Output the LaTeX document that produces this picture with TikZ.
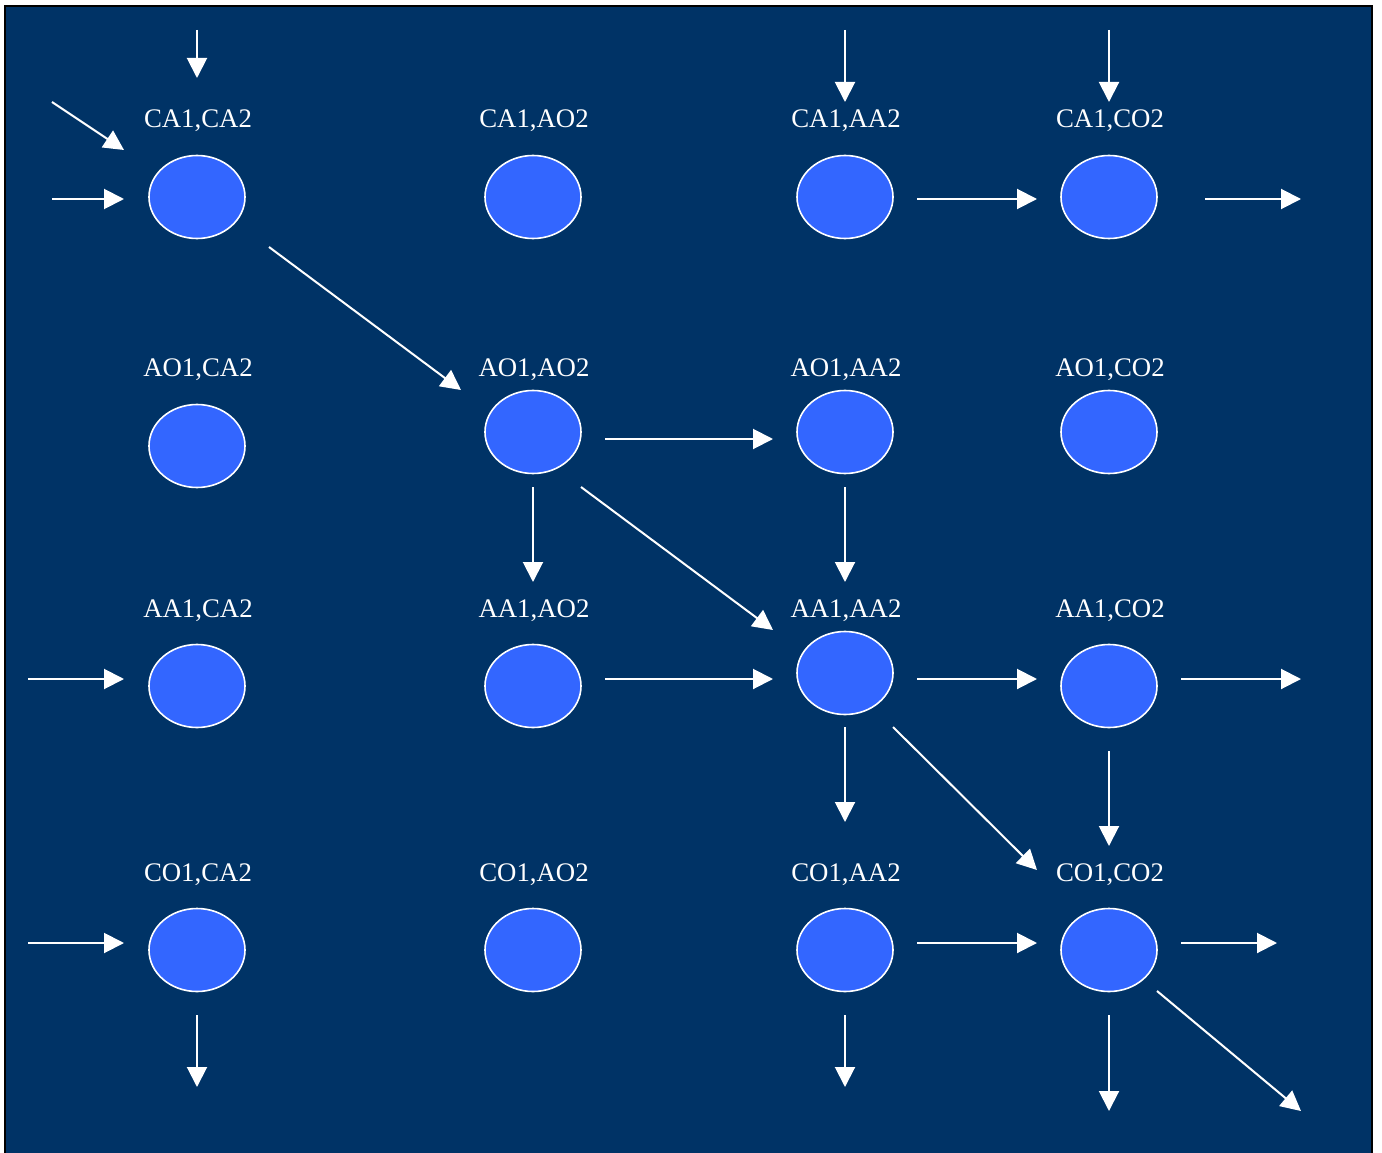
\documentclass[tikz,border=0pt]{standalone}
\usepackage{fontspec}
\setmainfont{Liberation Serif}
\usetikzlibrary{calc,arrows.meta,shapes.geometric}
\definecolor{navy}{HTML}{003366}
\definecolor{statefill}{HTML}{3366FF}
\tikzset{
  state/.style={ellipse, draw=white, line width=1.6pt, fill=statefill,
    minimum width=96pt, minimum height=83pt, inner sep=0pt},
  tag/.style={text=white, anchor=base, inner sep=0pt,
    font=\fontsize{26.8}{30}\selectfont},
  arr/.style={draw=white, line width=2pt,
    -{Triangle[length=20pt,width=20pt]}},
}
\begin{document}
\begin{tikzpicture}[x=1pt,y=-1pt]
\useasboundingbox (0,0) rectangle (1382,1153);
\fill[white] (0,0) rectangle (1382,1153);
\fill[navy] (5,6) rectangle (1372,1153);
\draw[black,line width=2pt] (5,1153) -- (5,6) -- (1372,6) -- (1372,1153);

% states
\node[state] (caca) at (197,197) {};
\node[state] (caao) at (533,197) {};
\node[state] (caaa) at (845,197) {};
\node[state] (caco) at (1109,197) {};
\node[state] (aoca) at (197,446) {};
\node[state] (aoao) at (533,432) {};
\node[state] (aoaa) at (845,432) {};
\node[state] (aoco) at (1109,432) {};
\node[state] (aaca) at (197,686) {};
\node[state] (aaao) at (533,686) {};
\node[state] (aaaa) at (845,673) {};
\node[state] (aaco) at (1109,686) {};
\node[state] (coca) at (197,950) {};
\node[state] (coao) at (533,950) {};
\node[state] (coaa) at (845,950) {};
\node[state] (coco) at (1109,950) {};

% labels
\node[tag] (lcaca) at (198,128) {CA1,CA2};
\node[tag] (lcaao) at (534,128) {CA1,AO2};
\node[tag] (lcaaa) at (846,128) {CA1,AA2};
\node[tag] (lcaco) at (1110,128) {CA1,CO2};
\node[tag] (laoca) at (198,376) {AO1,CA2};
\node[tag] (laoao) at (534,376) {AO1,AO2};
\node[tag] (laoaa) at (846,376) {AO1,AA2};
\node[tag] (laoco) at (1110,376) {AO1,CO2};
\node[tag] (laaca) at (198,617) {AA1,CA2};
\node[tag] (laaao) at (534,617) {AA1,AO2};
\node[tag] (laaaa) at (846,617) {AA1,AA2};
\node[tag] (laaco) at (1110,617) {AA1,CO2};
\node[tag] (lcoca) at (198,881) {CO1,CA2};
\node[tag] (lcoao) at (534,881) {CO1,AO2};
\node[tag] (lcoaa) at (846,881) {CO1,AA2};
\node[tag] (lcoco) at (1110,881) {CO1,CO2};

% free ends
\coordinate (s1) at (197,30);
\coordinate (s2) at (52,102);
\coordinate (s3) at (52,199);
\coordinate (s4) at (845,30);
\coordinate (s5) at (1109,30);
\coordinate (s6) at (28,679);
\coordinate (s7) at (28,943);
\coordinate (e1) at (1301,199);
\coordinate (e2) at (1301,679);
\coordinate (e3) at (1277,943);
\coordinate (e4) at (197,1087);
\coordinate (e5) at (845,1087);
\coordinate (e6) at (1109,1111);
\coordinate (e7) at (1301,1111);

% incoming transitions
\draw[arr] (s1) -- ($(caca)+(0,-119)$);
\draw[arr] (s2) -- ($(caca)+(-73,-47)$);
\draw[arr] (s3) -- ($(caca)+(-73,2)$);
\draw[arr] (s4) -- ($(caaa)+(0,-95)$);
\draw[arr] (s5) -- ($(caco)+(0,-95)$);
\draw[arr] (s6) -- ($(aaca)+(-73,-7)$);
\draw[arr] (s7) -- ($(coca)+(-73,-7)$);

% transitions between states
\draw[arr] ($(caca)+(72,50)$) -- ($(aoao)+(-72,-42)$);
\draw[arr] ($(caaa)+(72,2)$) -- ($(caco)+(-72,2)$);
\draw[arr] ($(aoao)+(72,7)$) -- ($(aoaa)+(-72,7)$);
\draw[arr] ($(aoao)+(0,55)$) -- ($(aaao)+(0,-104)$);
\draw[arr] ($(aoao)+(48,55)$) -- ($(aaaa)+(-72,-43)$);
\draw[arr] ($(aoaa)+(0,55)$) -- ($(aaaa)+(0,-91)$);
\draw[arr] ($(aaao)+(72,-7)$) -- ($(aaaa)+(-72,6)$);
\draw[arr] ($(aaaa)+(72,6)$) -- ($(aaco)+(-72,-7)$);
\draw[arr] ($(aaaa)+(0,54)$) -- ($(coaa)+(0,-128)$);
\draw[arr] ($(aaaa)+(48,54)$) -- ($(coco)+(-72,-80)$);
\draw[arr] ($(aaco)+(0,65)$) -- ($(coco)+(0,-104)$);
\draw[arr] ($(coaa)+(72,-7)$) -- ($(coco)+(-72,-7)$);

% outgoing transitions
\draw[arr] ($(caco)+(96,2)$) -- (e1);
\draw[arr] ($(aaco)+(72,-7)$) -- (e2);
\draw[arr] ($(coco)+(72,-7)$) -- (e3);
\draw[arr] ($(coca)+(0,65)$) -- (e4);
\draw[arr] ($(coaa)+(0,65)$) -- (e5);
\draw[arr] ($(coco)+(0,65)$) -- (e6);
\draw[arr] ($(coco)+(48,41)$) -- (e7);
\end{tikzpicture}
\end{document}
